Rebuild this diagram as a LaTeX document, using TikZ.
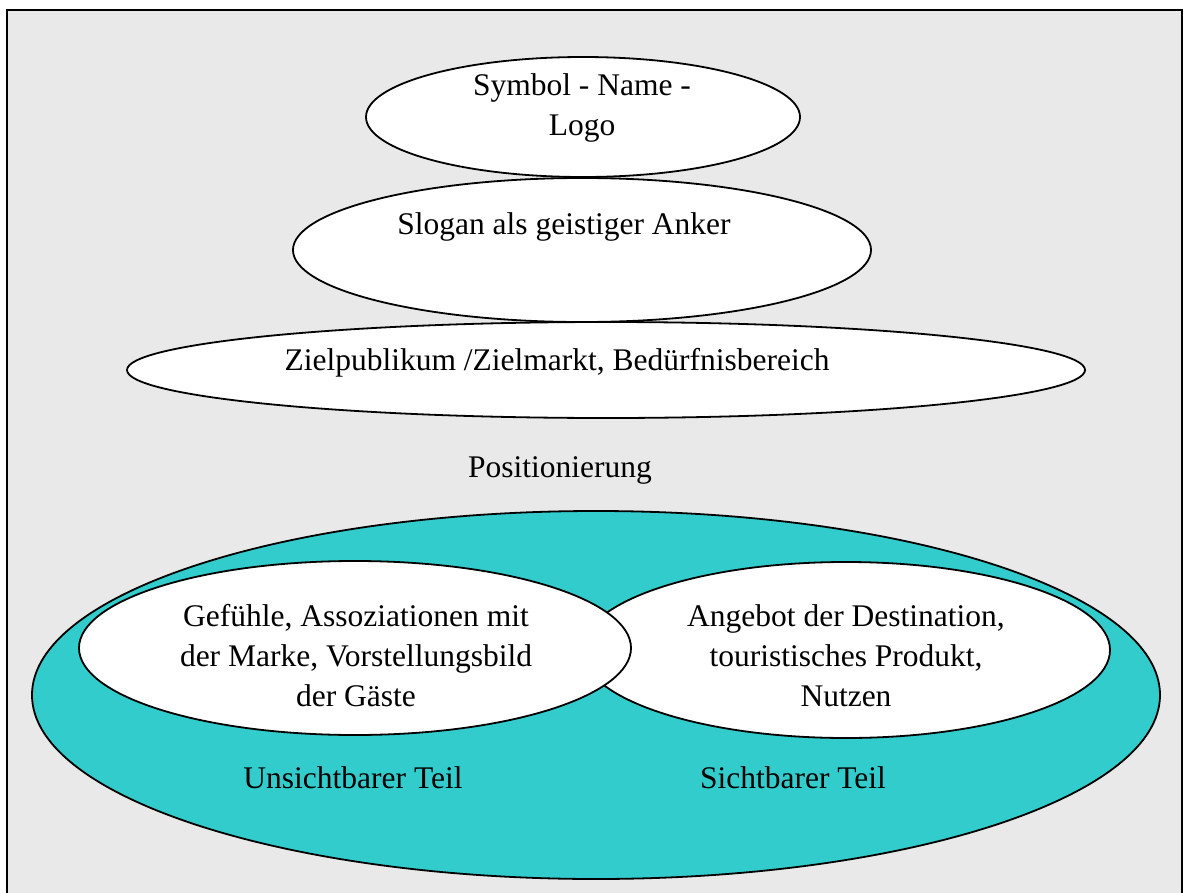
\documentclass[tikz,border=0pt]{standalone}
\usepackage{fontspec}
\setmainfont{Liberation Serif}
\usetikzlibrary{shapes.geometric}
\definecolor{bggray}{HTML}{E9E9E9}
\definecolor{tealfill}{HTML}{33CCCC}
\begin{document}
\begin{tikzpicture}[x=1bp,y=-1bp,
  oval/.style={ellipse, draw=black, line width=1.8bp, fill=white, inner sep=0pt},
  lbl/.style={font=\fontsize{31.5bp}{40bp}\selectfont, align=center, inner sep=0pt, text=black}]
\clip (0,0) rectangle (1183,893);
\fill[white] (0,0) rectangle (1183,893);
\draw[fill=bggray, line width=2.5bp] (7,10) rectangle (1182,910);

% upper stack
\node[oval, minimum width=434bp, minimum height=120bp] (sym) at (583,117) {};
\node[oval, minimum width=578bp, minimum height=144bp] (slo) at (582,250) {};
\node[oval, minimum width=958bp, minimum height=96bp] (ziel) at (606,370) {};

% lower part
\node[oval, fill=tealfill, minimum width=1128bp, minimum height=368bp] (posell) at (596,695) {};
\node[oval, minimum width=528bp, minimum height=176bp] (sicht) at (846,650) {};
\node[oval, minimum width=552bp, minimum height=174bp] (unsicht) at (355,648) {};

% texts
\node[lbl] (tsym) at (582,108) {Symbol - Name -\\Logo};
\node[lbl] (tslo) at (564,227) {Slogan als geistiger Anker};
\node[lbl] (tziel) at (557,363) {Zielpublikum /Zielmarkt, Bedürfnisbereich};
\node[lbl] (tpos) at (560,470) {Positionierung};
\node[lbl] (tunsicht) at (356,656) {Gefühle, Assoziationen mit\\der Marke, Vorstellungsbild\\der Gäste};
\node[lbl] (tsicht) at (846,656) {Angebot der Destination,\\touristisches Produkt,\\Nutzen};
\node[lbl] (tu) at (353,778) {Unsichtbarer Teil};
\node[lbl] (ts) at (793,778) {Sichtbarer Teil};
\end{tikzpicture}
\end{document}
